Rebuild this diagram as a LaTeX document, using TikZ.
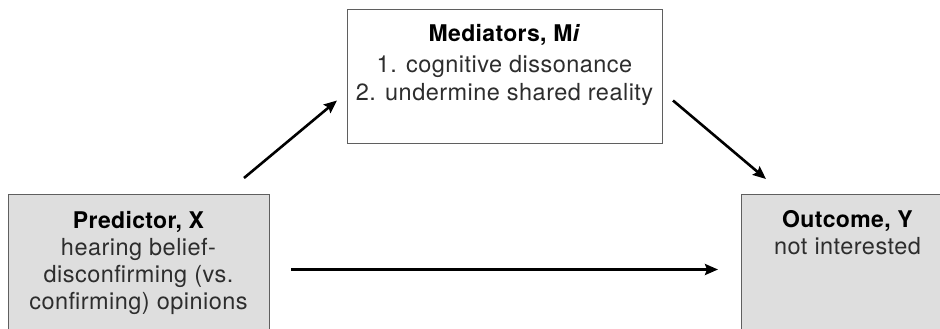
\documentclass[tikz,border=0pt]{standalone}
\usepackage{xcolor}
\usepackage{fontspec}
\setmainfont{TeX Gyre Heros}
\newfontfamily\bodyfont[LetterSpace=2]{TeX Gyre Heros}
\newfontfamily\headfont[LetterSpace=1.5]{TeX Gyre Heros}
\usepackage{tikz}
\usetikzlibrary{arrows.meta}
\definecolor{boxgray}{RGB}{222,222,222}
\definecolor{edgegray}{RGB}{95,95,95}
\definecolor{txtgray}{RGB}{45,45,45}
\newcommand{\head}[1]{\textcolor{black}{\fontsize{23}{28}\headfont\bfseries #1}}

\begin{document}
\begin{tikzpicture}[x=1pt,y=-1pt,
  box/.style={draw=edgegray, line width=1pt, rectangle, inner sep=0pt, anchor=north west},
  txt/.style={align=center, inner sep=0pt, anchor=north, text=txtgray},
  arr/.style={-{Stealth[length=13pt,width=11pt,inset=2pt]}, line width=2.6pt, black}]
\useasboundingbox[clip] (0,0) rectangle (940,329);
\node[box, fill=white, minimum width=315pt, minimum height=134pt] (med) at (347,9) {};
\node[box, fill=boxgray, minimum width=261pt, minimum height=146pt] (pred) at (8,194) {};
\node[box, fill=boxgray, minimum width=213pt, minimum height=146pt] (out) at (741,194) {};
\node[txt, font=\fontsize{23.5}{28}\bodyfont] (medtext) at (504.5,24.5) {\head{Mediators, M\textit{i}}\\[3pt]1. cognitive dissonance\\2. undermine shared reality};
\node[txt, font=\fontsize{23.5}{27}\bodyfont] (predtext) at (138.5,211.5) {\head{Predictor, X}\\hearing belief-\\disconfirming (vs.\\confirming) opinions};
\node[txt, font=\fontsize{23.5}{27}\bodyfont] (outtext) at (847.5,210.5) {\head{Outcome, Y}\\not interested};
\draw[arr] ([xshift=-26pt,yshift=16pt]pred.north east) -- ([xshift=-10pt,yshift=-24pt]med.west);
\draw[arr] ([xshift=10pt,yshift=-24pt]med.east) -- ([xshift=25pt,yshift=15pt]out.north west);
\draw[arr] ([xshift=21pt,yshift=-2pt]pred.east) -- ([xshift=-23pt,yshift=-2pt]out.west);
\end{tikzpicture}
\end{document}
